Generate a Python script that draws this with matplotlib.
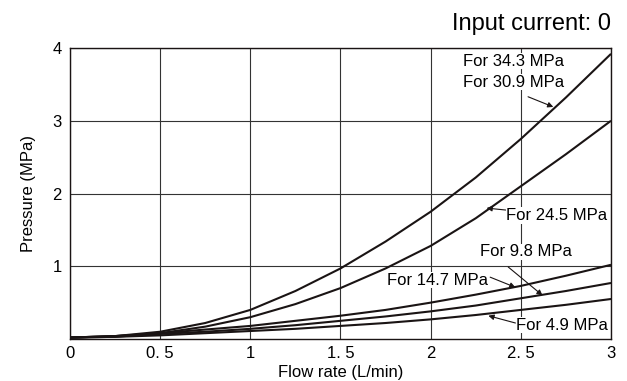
import matplotlib.pyplot as plt

plt.rcParams['font.family'] = ['Liberation Sans', 'DejaVu Sans']

# Data
flow = [0, 0.25, 0.5, 0.75, 1, 1.25, 1.5, 1.75, 2, 2.25, 2.5, 2.75, 3]
p_343 = [0.02, 0.04, 0.10, 0.22, 0.40, 0.66, 0.97, 1.34, 1.75, 2.22, 2.75, 3.32, 3.92]
p_309 = [0.02, 0.03, 0.08, 0.17, 0.30, 0.48, 0.70, 0.97, 1.28, 1.66, 2.10, 2.54, 3.00]
p_147 = [0.02, 0.04, 0.08, 0.13, 0.18, 0.25, 0.32, 0.40, 0.50, 0.61, 0.73, 0.87, 1.02]
p_98 = [0.02, 0.04, 0.07, 0.10, 0.14, 0.19, 0.25, 0.31, 0.38, 0.46, 0.56, 0.66, 0.77]
p_49 = [0.02, 0.03, 0.05, 0.08, 0.11, 0.14, 0.18, 0.22, 0.27, 0.33, 0.40, 0.47, 0.55]

x_ticks = [0, 0.5, 1, 1.5, 2, 2.5, 3]
x_labels = ['0', '0. 5', '1', '1. 5', '2', '2. 5', '3']
y_ticks = [1, 2, 3, 4]

fig = plt.figure(figsize=(6.27, 3.81), dpi=100)
ax = fig.add_axes([0.1116, 0.1102, 0.8629, 0.7638])

for p in [p_343, p_309, p_147, p_98, p_49]:
    ax.plot(flow, p, color='#1a1414', lw=1.5, solid_capstyle='butt')

ax.set_xlim(0, 3)
ax.set_ylim(0, 4)
ax.set_xticks(x_ticks)
ax.set_xticklabels(x_labels)
ax.set_yticks(y_ticks)
ax.tick_params(length=0, labelsize=12)
ax.tick_params(axis='x', pad=5)
ax.tick_params(axis='y', pad=6)
ax.grid(True, color='#333333', lw=0.8)
for s in ax.spines.values():
    s.set_color('#1a1414')
    s.set_linewidth(1.0)

ax.set_xlabel('Flow rate (L/min)', fontsize=12, labelpad=3)
ax.set_ylabel('Pressure (MPa)', fontsize=12, labelpad=12)
ax.set_title('Input current: 0', loc='right', fontsize=17, pad=13)

arrow = dict(arrowstyle='-|>', color='#1a1414', lw=0.8, mutation_scale=8,
             shrinkA=0, shrinkB=0)
box = dict(fc='white', ec='none', pad=0.5)
fs = 12
ax.text(2.46, 3.82, 'For 34.3 MPa', fontsize=fs, ha='center', va='center', bbox=box)
ax.text(2.46, 3.53, 'For 30.9 MPa', fontsize=fs, ha='center', va='center', bbox=box)
ax.annotate('', xy=(2.68, 3.19), xytext=(2.54, 3.33), arrowprops=arrow)

ax.annotate('For 24.5 MPa', xy=(2.31, 1.80), xytext=(2.42, 1.70), fontsize=fs,
            ha='left', va='center', arrowprops=arrow, bbox=box)
ax.text(2.53, 1.20, 'For 9.8 MPa', fontsize=fs, ha='center', va='center', bbox=box)
ax.annotate('', xy=(2.62, 0.60), xytext=(2.43, 0.99), arrowprops=arrow)
ax.text(2.04, 0.81, 'For 14.7 MPa', fontsize=fs, ha='center', va='center', bbox=box)
ax.annotate('', xy=(2.47, 0.71), xytext=(2.33, 0.85), arrowprops=arrow)
ax.text(2.73, 0.19, 'For 4.9 MPa', fontsize=fs, ha='center', va='center', bbox=box)
ax.annotate('', xy=(2.32, 0.32), xytext=(2.47, 0.22), arrowprops=arrow)

fig.savefig('out.png', dpi=100)
